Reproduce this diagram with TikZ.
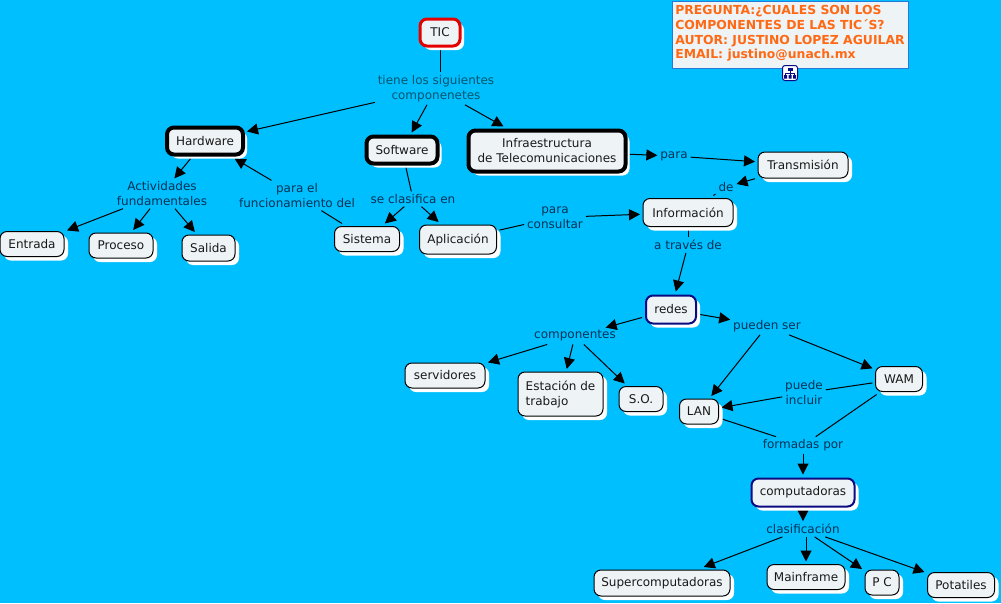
\documentclass[tikz,border=0pt]{standalone}
\usepackage{fontspec}
\setmainfont{DejaVu Sans}
\usetikzlibrary{arrows.meta,shadows}
\pgfdeclarelayer{edgelayer}
\pgfsetlayers{edgelayer,main}
\definecolor{bgblue}{RGB}{0,191,255}
\definecolor{boxfill}{RGB}{238,243,246}
\definecolor{labelcol}{RGB}{0,50,85}
\definecolor{tealcol}{RGB}{0,85,110}
\definecolor{navyb}{RGB}{10,10,130}
\definecolor{orangetxt}{RGB}{255,105,20}
\definecolor{legendb}{RGB}{40,120,215}
\tikzset{
  x=1pt,y=-1pt,
  every node/.style={font=\fontsize{12}{15}\selectfont,align=center},
  cbox/.style={draw=black,line width=1pt,fill=boxfill,rounded corners=7pt,inner sep=0pt,
    outer sep=3pt,general shadow={fill=white,shadow xshift=4pt,shadow yshift=-4pt},text=black!90},
  thickbox/.style={cbox,line width=4pt,outer sep=4pt},
  redbox/.style={cbox,draw=red!90!black,line width=3pt,outer sep=4pt},
  navybox/.style={cbox,draw=navyb,line width=2pt,outer sep=4pt},
  lbl/.style={text=labelcol,inner sep=0pt,outer sep=3pt},
  arr/.style={line width=1pt,-{Triangle[length=11pt,width=11pt]}},
  lin/.style={line width=1pt},
  sz/.style 2 args={minimum width=#1pt,minimum height=#2pt},
}
\begin{document}
\begin{tikzpicture}
\begin{pgfonlayer}{edgelayer}
\fill[bgblue] (0,0) rectangle (1001,603);
\end{pgfonlayer}
\useasboundingbox (0,0) rectangle (1001,603);
% concepts
\node[redbox,sz={40}{27}] (tic) at (440,32.5) {TIC};
\node[thickbox,sz={76}{27}] (hw) at (205,141) {Hardware};
\node[thickbox,sz={71}{27}] (sw) at (402,150) {Software};
\node[thickbox,sz={157}{41}] (inf) at (547,151) {Infraestructura\\de Telecomunicaciones};
\node[cbox,sz={90}{26}] (trans) at (803,165) {Transmisión};
\node[cbox,sz={90}{28}] (info) at (688,212.5) {Información};
\node[cbox,sz={64}{25}] (ent) at (32,244) {Entrada};
\node[cbox,sz={64}{25}] (pro) at (121,245.5) {Proceso};
\node[cbox,sz={53}{26}] (sal) at (208.5,248) {Salida};
\node[cbox,sz={65}{25}] (sis) at (367,239) {Sistema};
\node[cbox,sz={77}{29}] (apl) at (458,239.5) {Aplicación};
\node[navybox,sz={50}{28}] (red) at (671,309.5) {redes};
\node[cbox,sz={80}{25}] (ser) at (445,375.5) {servidores};
\node[cbox,sz={85}{44},align=left] (est) at (560.5,394) {Estación de\\trabajo};
\node[cbox,sz={44}{25}] (so) at (641,399) {S.O.};
\node[cbox,sz={39}{25}] (lan) at (699,411.5) {LAN};
\node[cbox,sz={47}{25}] (wam) at (899,379) {WAM};
\node[navybox,sz={103}{28}] (com) at (803,492.5) {computadoras};
\node[cbox,sz={136}{26}] (sup) at (662,583) {Supercomputadoras};
\node[cbox,sz={78}{25}] (mai) at (806,577) {Mainframe};
\node[cbox,sz={34}{25}] (pc) at (882,582.5) {P C};
\node[cbox,sz={67}{25}] (pot) at (961,585) {Potatiles};
% linking phrases
\node[lbl,text=tealcol] (l1) at (436,88.5) {tiene los siguientes\\componenetes};
\node[lbl] (l2) at (162,193.5) {Actividades\\fundamentales};
\node[lbl] (l3) at (297,195.5) {para el\\funcionamiento del};
\node[lbl] (l4) at (413,199) {se clasifica en};
\node[lbl] (l5) at (555,217.5) {para\\consultar};
\node[lbl] (l6) at (674,156) {para};
\node[lbl] (l7) at (726,187) {de};
\node[lbl] (l8) at (688,245) {a través de};
\node[lbl] (l9) at (575,336) {componentes};
\node[lbl] (l10) at (767,326) {pueden ser};
\node[lbl] (l11) at (804,393) {puede\\incluir};
\node[lbl] (l12) at (803,445.5) {formadas por};
\node[lbl] (l13) at (803,529) {clasificación};
% connectors
\begin{pgfonlayer}{edgelayer}
\draw[lin] (tic.south) -- (l1.north -| tic.south);
\draw[arr] (l1)--(hw);
\draw[arr] (l1)--(sw);
\draw[arr] (l1)--(inf);
\draw[arr] (hw)--(l2);
\draw[arr] (l2)--(ent);
\draw[arr] (l2)--(pro);
\draw[arr] (l2)--(sal);
\draw[lin] (sis)--(l3);
\draw[arr] (l3)--(hw);
\draw[lin] (sw)--(l4);
\draw[arr] (l4)--(sis);
\draw[arr] (l4)--(apl);
\draw[lin] (apl)--(l5);
\draw[arr] (l5)--(info);
\draw[arr] (inf)--(l6);
\draw[arr] (l6)--(trans);
\draw[arr] (trans)--(l7);
\draw[lin] (l7)--(info);
\draw[lin] (info)--(l8);
\draw[arr] (l8)--(red);
\draw[arr] (red)--(l9);
\draw[arr] (red)--(l10);
\draw[arr] (l9)--(ser);
\draw[arr] (l9)--(est);
\draw[arr] (l9)--(so);
\draw[arr] (l10)--(lan);
\draw[arr] (l10)--(wam);
\draw[lin] (wam)--(l11);
\draw[arr] (l11)--(lan);
\draw[lin] (lan)--(l12);
\draw[lin] (wam)--(l12);
\draw[arr] (l12.south) -- (com.north);
\draw[arr] (com.south) -- (l13.north);
\draw[arr] (l13)--(sup);
\draw[arr] (l13.south -| mai.north)--(mai.north);
\draw[arr] (l13)--(pc);
\draw[arr] (l13)--(pot);
\end{pgfonlayer}
% legend box
\node[draw=legendb,line width=1pt,fill=boxfill,minimum width=236pt,minimum height=67pt,inner sep=0pt] (legend) at (790,34.5) {};
\node[inner sep=0pt,align=left,text=orangetxt,font=\fontsize{12.4}{14.7}\selectfont\bfseries] (legendtext) at (790,33.5)
  {PREGUNTA:¿CUALES SON LOS\\COMPONENTES DE LAS TIC´S?\\AUTOR: JUSTINO LOPEZ AGUILAR\\EMAIL: justino@unach.mx};
% icon
\node[draw=navyb,line width=1pt,fill=white,rounded corners=2.5pt,minimum width=15pt,minimum height=15pt,inner sep=0pt] (icon) at (790,73) {};
\fill[navyb] (787.5,67.5) rectangle (792.5,71);
\draw[navyb,line width=.8pt] (790,71) -- (790,73) (785.5,75) -- (785.5,73) -- (794.5,73) -- (794.5,75) (790,73) -- (790,75);
\fill[navyb] (784,75) rectangle (787,78.5) (788.5,75) rectangle (791.5,78.5) (793,75) rectangle (796,78.5);
\end{tikzpicture}
\end{document}
